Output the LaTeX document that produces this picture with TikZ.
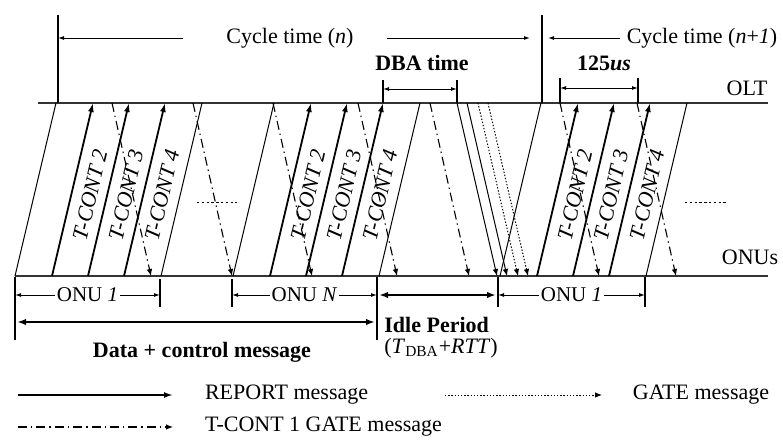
\documentclass[tikz,border=0pt]{standalone}
\usepackage{fontspec}
\setmainfont{Liberation Serif}
\usetikzlibrary{arrows.meta}

\begin{document}
\begin{tikzpicture}[x=0.5pt, y=-0.5pt,
  font=\fontsize{11}{13}\selectfont,
  bus/.style={line width=1.1pt, black!80},
  burst/.style={line width=0.5pt},
  report/.style={line width=0.9pt, -{Latex[length=4.5pt,width=3pt]}},
  gate/.style={line width=0.5pt, dash pattern=on 0.7pt off 0.9pt, -{Latex[length=3.5pt,width=2.8pt]}},
  tgate/.style={line width=0.55pt, dash pattern=on 4.5pt off 2pt on 0.7pt off 2pt, -{Latex[length=3.5pt,width=2.8pt]}},
  dim/.style={line width=0.5pt, {Latex[length=3pt,width=2pt]}-{Latex[length=3pt,width=2pt]}},
  onearr/.style={line width=0.5pt, -{Latex[length=3pt,width=2pt]}},
  heavy/.style={line width=1.3pt, {Latex[length=4.5pt,width=3.2pt]}-{Latex[length=4.5pt,width=3.2pt]}},
  tick/.style={line width=0.6pt},
  more/.style={line width=0.5pt, dash pattern=on 1.2pt off 1.2pt},
  tlabel/.style={font=\fontsize{11}{13}\selectfont\itshape, rotate=76.7, inner sep=0pt},
  span/.style={font=\fontsize{10.5}{12}\selectfont, fill=white, inner sep=1pt}
]
\useasboundingbox (0,0) rectangle (783,445);

% ================= OLT / ONU lines =================
\draw[bus] (38,103) -- (768,103);
\draw[bus] (15,276) -- (768,276);
\node (olt) at (747,88) {OLT};
\node (onus) at (750,257) {ONUs};

% --- upstream bursts: data edges and REPORT arrows ---
\foreach \b in {15,233,500}{
  \draw[burst] (\b,276) -- ++(41,-173);
  \foreach \o in {37,73,109} \draw[report] (\b+\o,276) -- ++(41,-173);
  \draw[burst] (\b+146,276) -- ++(41,-173);
  \foreach \k/\o in {2/37,3/73,4/109}
    \node[tlabel] (tc\b\k) at (\b+\o+38,195) {T-CONT \k};
}

% --- T-CONT 1 GATE messages ---
\foreach \t in {112,193,273,358,430,560,637}
  \draw[tgate] (\t,103) -- ++(39,173);

% --- GATE messages after DBA ---
\draw[gate, solid] (457,103) -- (497,276);
\draw[gate, solid] (467,103) -- (507,276);
\draw[gate] (478,103) -- (518,276);
\draw[gate] (488,103) -- (528,276);

\draw[more] (197,202) -- (237,202);
\draw[more] (685,202) -- (727,202);

% ================= top dimensions =================
\draw[tick] (58,15) -- (58,103);
\draw[tick] (542,15) -- (542,103);
\node (cycn) at (290,38) {Cycle time (\textit{n})};
\draw[onearr] (183,38) -- (58,38);
\draw[onearr] (387,38) -- (530,38);
\draw[onearr] (620,38) -- (548,38);
\node (cycm) at (702,38) {Cycle time (\textit{n}+\textit{1})};

\draw[tick] (383,80) -- (383,103);
\draw[tick] (457,80) -- (457,103);
\draw[dim] (383,89) -- (457,89);
\node[font=\fontsize{11}{13}\selectfont\bfseries] (dba) at (422,63) {DBA time};

\draw[tick] (560,78) -- (560,103);
\draw[tick] (638,78) -- (638,103);
\draw[dim] (560,88) -- (638,88);
\node (slot) at (604,63) {\textbf{125\textit{us}}};

% ================= bottom dimensions =================
\draw[tick] (15,277) -- (15,340);
\draw[tick] (160,279) -- (160,307);
\draw[tick] (232,279) -- (232,307);
\draw[tick] (377,277) -- (377,340);
\draw[tick] (498,277) -- (498,307);
\draw[tick] (645,277) -- (645,307);

\draw[dim] (15,295) -- (160,295) node[span, midway] (onua) {ONU \textit{1}};
\draw[dim] (232,295) -- (377,295) node[span, midway] (onun) {ONU \textit{N}};
\draw[dim] (498,295) -- (645,295) node[span, midway] (onub) {ONU \textit{1}};
\draw[heavy] (379,295) -- (496,295);
\draw[heavy] (17,322) -- (375,322);

\node[font=\fontsize{11}{13}\selectfont\bfseries] (data) at (202,352) {Data + control message};
\node[font=\fontsize{11}{13}\selectfont\bfseries, anchor=west, inner sep=0pt] (idle) at (384,325) {Idle Period};
\node[anchor=west, inner sep=0pt] (idlet) at (384,348) {(\textit{T}\textsubscript{DBA}+\textit{RTT})};

% ================= legend =================
\draw[report] (18,395) -- (173,395);
\node[anchor=west] (lrep) at (198,395) {REPORT message};
\draw[gate] (445,395) -- (602,395);
\node (lgate) at (701,395) {GATE message};
\draw[tgate] (18,427) -- (173,427);
\node[anchor=west] (ltc) at (198,427) {T-CONT 1 GATE message};
\end{tikzpicture}
\end{document}
